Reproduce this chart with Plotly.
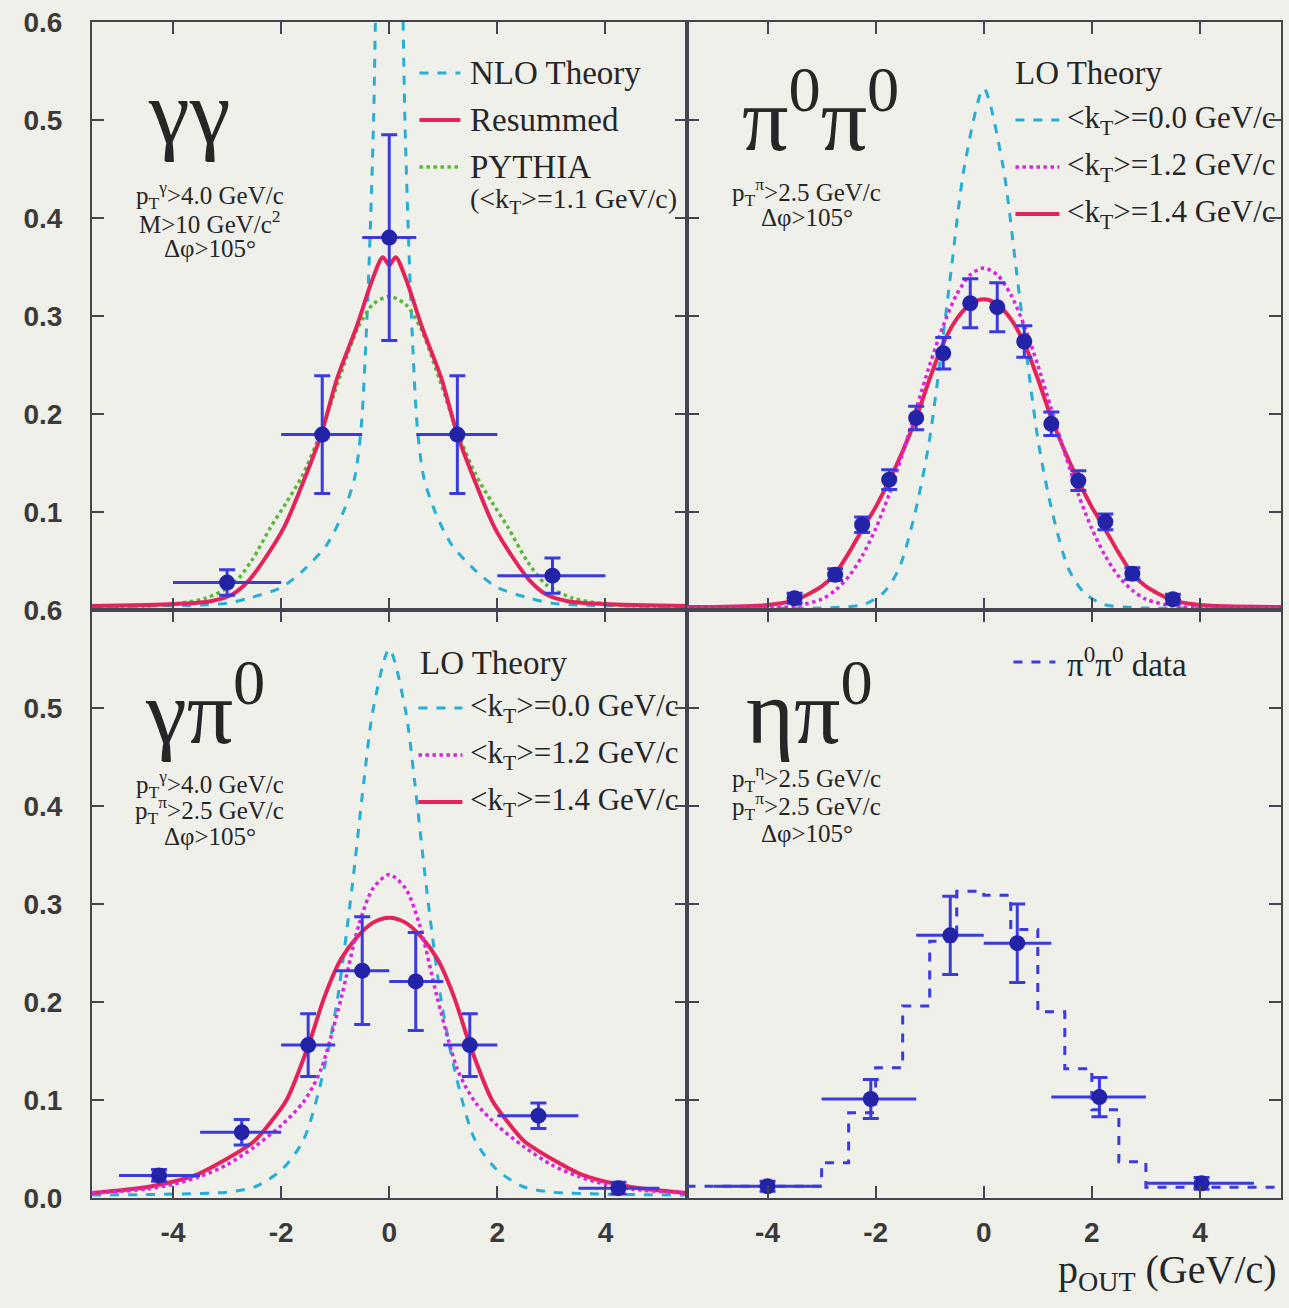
import plotly.graph_objects as go
from plotly.subplots import make_subplots

# ---------------- data ----------------
# gamma-gamma (top left)
gg_x = [-3.0, -1.24, 0.0, 1.26, 3.02]
gg_y = [0.028, 0.179, 0.38, 0.179, 0.035]
gg_yerr = [0.013, 0.06, 0.105, 0.06, 0.018]
gg_xlo = [-4.0, -2.0, -0.5, 0.5, 2.0]
gg_xhi = [-2.0, -0.5, 0.5, 2.0, 4.0]

nlo_x = [-5.5, -4.5, -3.5, -3.0, -2.6, -2.0, -1.6, -1.15, -0.85, -0.64, -0.52, -0.42, -0.35, -0.29, -0.25, -0.15, 0.0,
         0.15, 0.25, 0.29, 0.35, 0.42, 0.52, 0.64, 0.85, 1.15, 1.6, 2.0, 2.6, 3.0, 3.5, 4.5, 5.5]
nlo_y = [0.003, 0.004, 0.005, 0.007, 0.012, 0.023, 0.04, 0.067, 0.1, 0.135, 0.186, 0.288, 0.39, 0.5, 0.62, 0.9, 1.1,
         0.9, 0.62, 0.5, 0.39, 0.288, 0.186, 0.135, 0.1, 0.067, 0.04, 0.023, 0.012, 0.007, 0.005, 0.004, 0.003]

res_x = [-5.5, -4.5, -4.0, -3.3, -2.9, -2.6, -2.33, -1.95, -1.56, -1.26, -0.96, -0.61, -0.3, -0.12, 0.0,
         0.12, 0.3, 0.61, 0.96, 1.26, 1.56, 1.95, 2.33, 2.6, 2.9, 3.3, 4.0, 4.5, 5.5]
res_y = [0.004, 0.005, 0.006, 0.009, 0.016, 0.03, 0.05, 0.084, 0.135, 0.179, 0.237, 0.288, 0.339, 0.36, 0.352,
         0.36, 0.339, 0.288, 0.237, 0.179, 0.135, 0.084, 0.05, 0.03, 0.016, 0.009, 0.006, 0.005, 0.004]

pyth_x = [-5.5, -4.5, -4.0, -3.4, -2.9, -2.55, -2.2, -1.9, -1.6, -1.26, -0.92, -0.58, -0.3, 0.0,
          0.3, 0.58, 0.92, 1.26, 1.6, 1.9, 2.2, 2.55, 2.9, 3.4, 4.0, 4.5, 5.5]
pyth_y = [0.003, 0.004, 0.006, 0.012, 0.026, 0.05, 0.084, 0.11, 0.138, 0.182, 0.237, 0.288, 0.312, 0.32,
          0.312, 0.288, 0.237, 0.182, 0.138, 0.11, 0.084, 0.05, 0.026, 0.012, 0.006, 0.004, 0.003]

# pi0-pi0 (top right)
pp_x = [-3.5, -2.75, -2.25, -1.75, -1.25, -0.75, -0.25, 0.25, 0.75, 1.25, 1.75, 2.25, 2.75, 3.5]
pp_y = [0.012, 0.036, 0.087, 0.133, 0.196, 0.262, 0.313, 0.309, 0.274, 0.19, 0.132, 0.09, 0.037, 0.011]
pp_yerr = [0.005, 0.006, 0.008, 0.01, 0.012, 0.016, 0.025, 0.025, 0.016, 0.012, 0.01, 0.008, 0.006, 0.005]
pp_xerr = [0.12] * 14

pk0_x = [-5.5, -4.0, -3.0, -2.6, -2.2, -1.85, -1.57, -1.28, -1.02, -0.84, -0.6, -0.35, 0.0,
         0.35, 0.6, 0.84, 1.02, 1.28, 1.57, 1.85, 2.2, 2.6, 3.0, 4.0, 5.5]
pk0_y = [0.002, 0.002, 0.002, 0.003, 0.006, 0.018, 0.042, 0.097, 0.168, 0.24, 0.348, 0.455, 0.532,
         0.455, 0.348, 0.24, 0.168, 0.097, 0.042, 0.018, 0.006, 0.003, 0.002, 0.002, 0.002]

pk_x = [-5.5, -4.0, -3.5, -3.0, -2.75, -2.5, -2.25, -2.0, -1.75, -1.5, -1.25, -1.0, -0.75, -0.5, -0.25, 0.0,
        0.25, 0.5, 0.75, 1.0, 1.25, 1.5, 1.75, 2.0, 2.25, 2.5, 2.75, 3.0, 3.5, 4.0, 5.5]
pk12_y = [0.002, 0.002, 0.004, 0.011, 0.02, 0.034, 0.055, 0.083, 0.118, 0.16, 0.205, 0.25, 0.29, 0.322, 0.342, 0.349,
          0.342, 0.322, 0.29, 0.25, 0.205, 0.16, 0.118, 0.083, 0.055, 0.034, 0.02, 0.011, 0.004, 0.002, 0.002]
pk14_y = [0.003, 0.005, 0.01, 0.024, 0.037, 0.058, 0.082, 0.105, 0.132, 0.162, 0.196, 0.236, 0.272, 0.297, 0.312, 0.317,
          0.312, 0.297, 0.272, 0.236, 0.196, 0.162, 0.132, 0.105, 0.082, 0.058, 0.037, 0.024, 0.01, 0.005, 0.003]

# gamma-pi0 (bottom left)
gp_x = [-4.26, -2.73, -1.5, -0.5, 0.49, 1.49, 2.76, 4.24]
gp_y = [0.023, 0.067, 0.156, 0.232, 0.221, 0.156, 0.084, 0.01]
gp_yerr = [0.006, 0.013, 0.032, 0.055, 0.05, 0.032, 0.013, 0.006]
gp_xlo = [-5.0, -3.5, -2.0, -1.0, 0.0, 1.0, 2.0, 3.5]
gp_xhi = [-3.5, -2.0, -1.0, 0.0, 1.0, 2.0, 3.5, 5.0]

gk0_x = [-5.5, -4.0, -3.0, -2.46, -1.97, -1.58, -1.2, -0.95, -0.69, -0.47, -0.3, 0.0,
         0.3, 0.47, 0.69, 0.95, 1.2, 1.58, 1.97, 2.46, 3.0, 4.0, 5.5]
gk0_y = [0.003, 0.004, 0.006, 0.012, 0.03, 0.06, 0.133, 0.206, 0.316, 0.425, 0.498, 0.56,
         0.498, 0.425, 0.316, 0.206, 0.133, 0.06, 0.03, 0.012, 0.006, 0.004, 0.003]

gk12_x = [-5.5, -4.5, -4.0, -3.5, -3.0, -2.5, -2.0, -1.6, -1.4, -1.25, -1.1, -0.88, -0.56, -0.3, 0.0,
          0.3, 0.56, 0.88, 1.1, 1.25, 1.4, 1.6, 2.0, 2.5, 3.0, 3.5, 4.0, 4.5, 5.5]
gk12_y = [0.005, 0.009, 0.014, 0.022, 0.034, 0.052, 0.074, 0.097, 0.115, 0.133, 0.16, 0.206, 0.279, 0.316, 0.33,
          0.316, 0.279, 0.206, 0.16, 0.133, 0.115, 0.097, 0.074, 0.052, 0.034, 0.022, 0.014, 0.009, 0.005]

gk14_x = [-5.5, -4.4, -3.6, -3.1, -2.5, -2.2, -1.9, -1.5, -1.2, -0.9, -0.6, -0.3, 0.0,
          0.3, 0.6, 0.9, 1.2, 1.5, 1.9, 2.2, 2.5, 3.1, 3.6, 4.4, 5.5]
gk14_y = [0.005, 0.012, 0.023, 0.037, 0.058, 0.077, 0.1, 0.155, 0.205, 0.243, 0.266, 0.281, 0.286,
          0.281, 0.266, 0.243, 0.205, 0.155, 0.1, 0.077, 0.058, 0.037, 0.023, 0.012, 0.005]

# eta-pi0 (bottom right)
ep_x = [-4.0, -2.09, -0.62, 0.62, 2.14, 4.03]
ep_y = [0.012, 0.101, 0.268, 0.26, 0.103, 0.015]
ep_yerr = [0.005, 0.02, 0.04, 0.04, 0.02, 0.006]
ep_xlo = [-5.0, -3.0, -1.25, 0.0, 1.25, 3.0]
ep_xhi = [-3.0, -1.25, 0.0, 1.25, 3.0, 5.0]

hist_edges = [-5.5, -3.0, -2.5, -2.0, -1.5, -1.0, -0.5, 0.0, 0.5, 1.0, 1.5, 2.0, 2.5, 3.0, 5.5]

x_ticks = [-4, -2, 0, 2, 4]
y_ticks = [0.0, 0.1, 0.2, 0.3, 0.4, 0.5, 0.6]
y_labels = ["0.0", "0.1", "0.2", "0.3", "0.4", "0.5", "0.6"]

# ---------------- style ----------------
CYAN = "#27aed6"
RED = "#e3235a"
GREEN = "#58b837"
MAG = "#d925dc"
BLUE = "#3a3ae0"
MARK = "#2323a8"
BG = "#f0f0eb"
AX = "#45454f"
TXT = "#262626"
SERIF = "Liberation Serif"
TICKFONT = dict(family="Liberation Sans", size=28, color="#3a3a3a", weight="bold")

fig = make_subplots(rows=2, cols=2, horizontal_spacing=0, vertical_spacing=0)


def curve(x, y, color, dash, width, row, col):
    fig.add_trace(go.Scatter(x=x, y=y, mode="lines",
                             line=dict(color=color, dash=dash, width=width, shape="spline", smoothing=0.8),
                             showlegend=False, hoverinfo="skip"), row=row, col=col)


def points(x, y, yerr, row, col, xlo=None, xhi=None, xerr=None):
    if xerr is not None:
        ex = dict(type="data", array=xerr, color=BLUE, thickness=3, width=0)
    else:
        ex = dict(type="data", symmetric=False,
                  array=[h - v for h, v in zip(xhi, x)],
                  arrayminus=[v - l for v, l in zip(x, xlo)],
                  color=BLUE, thickness=3, width=0)
    fig.add_trace(go.Scatter(x=x, y=y, mode="markers",
                             marker=dict(color=MARK, size=16, symbol="circle"),
                             error_y=dict(type="data", array=yerr, color=BLUE, thickness=3, width=8),
                             error_x=ex, showlegend=False), row=row, col=col)


# top left
curve(nlo_x, nlo_y, CYAN, "dash", 3, 1, 1)
curve(pyth_x, pyth_y, GREEN, "dot", 3.5, 1, 1)
curve(res_x, res_y, RED, "solid", 4, 1, 1)
points(gg_x, gg_y, gg_yerr, 1, 1, gg_xlo, gg_xhi)

# top right
curve(pk0_x, pk0_y, CYAN, "dash", 3, 1, 2)
curve(pk_x, pk14_y, RED, "solid", 4, 1, 2)
curve(pk_x, pk12_y, MAG, "dot", 3.5, 1, 2)
points(pp_x, pp_y, pp_yerr, 1, 2, xerr=pp_xerr)

# bottom left
curve(gk0_x, gk0_y, CYAN, "dash", 3, 2, 1)
curve(gk14_x, gk14_y, RED, "solid", 4, 2, 1)
curve(gk12_x, gk12_y, MAG, "dot", 3.5, 2, 1)
points(gp_x, gp_y, gp_yerr, 2, 1, gp_xlo, gp_xhi)

# bottom right: pi0pi0 data as dashed histogram
fig.add_trace(go.Scatter(x=hist_edges, y=pp_y + [pp_y[-1]], mode="lines",
                         line=dict(color=BLUE, dash="dash", width=3, shape="hv"),
                         showlegend=False, hoverinfo="skip"), row=2, col=2)
points(ep_x, ep_y, ep_yerr, 2, 2, ep_xlo, ep_xhi)

# axes
for r in (1, 2):
    for c in (1, 2):
        fig.update_xaxes(range=[-5.5, 5.5], tickvals=x_ticks, ticktext=[str(v) for v in x_ticks],
                         ticks="inside", ticklen=12, tickwidth=2, tickcolor=AX,
                         showline=True, linecolor=AX, linewidth=2, mirror="ticks",
                         showgrid=False, zeroline=False, showticklabels=(r == 2),
                         tickfont=TICKFONT, ticklabelstandoff=8, row=r, col=c)
        fig.update_yaxes(range=[0, 0.6], tickvals=y_ticks,
                         ticktext=([""] + y_labels[1:]) if r == 1 else y_labels,
                         ticks="inside", ticklen=12, tickwidth=2, tickcolor=AX,
                         showline=True, linecolor=AX, linewidth=2, mirror="ticks",
                         showgrid=False, zeroline=False, showticklabels=(c == 1),
                         tickfont=TICKFONT, ticklabelstandoff=22, row=r, col=c)

# ---------------- annotations & legend samples ----------------
L, R, T, B = 92, 1283, 22, 1198


def P(px, py):
    return (px - L) / (R - L), (B - py) / (B - T)


ann = []
shapes = []


def text(px, py, s, size, xanchor="left", align="left"):
    x, y = P(px, py)
    ann.append(dict(x=x, y=y, xref="paper", yref="paper", text=s, showarrow=False,
                    xanchor=xanchor, yanchor="middle", align=align,
                    font=dict(family=SERIF, size=size, color=TXT)))


def sample(px0, px1, py, color, dash, width):
    x0, y0 = P(px0, py)
    x1, _ = P(px1, py)
    shapes.append(dict(type="line", xref="paper", yref="paper", x0=x0, x1=x1, y0=y0, y1=y0,
                       line=dict(color=color, dash=dash, width=width)))


# panel labels
text(189, 112, "γγ", 92, xanchor="center")
text(822, 112, "π<sup>0</sup>π<sup>0</sup>", 92, xanchor="center")
text(205, 705, "γπ<sup>0</sup>", 92, xanchor="center")
text(811, 705, "ηπ<sup>0</sup>", 92, xanchor="center")

# cuts (one annotation per line)
CS = 25
for py, s in [(195, "p<sub>T</sub><sup>γ</sup>>4.0 GeV/c"), (222, "M>10 GeV/c<sup>2</sup>"), (248, "Δφ>105°")]:
    text(210, py, s, CS, xanchor="center")
for py, s in [(192, "p<sub>T</sub><sup>π</sup>>2.5 GeV/c"), (217, "Δφ>105°")]:
    text(808, py, s, CS, xanchor="center")
for py, s in [(784, "p<sub>T</sub><sup>γ</sup>>4.0 GeV/c"), (810, "p<sub>T</sub><sup>π</sup>>2.5 GeV/c"), (836, "Δφ>105°")]:
    text(210, py, s, CS, xanchor="center")
for py, s in [(778, "p<sub>T</sub><sup>η</sup>>2.5 GeV/c"), (806, "p<sub>T</sub><sup>π</sup>>2.5 GeV/c"), (833, "Δφ>105°")]:
    text(808, py, s, CS, xanchor="center")

LS = 33
KS = 31
# top-left legend
sample(420, 461, 73, CYAN, "dash", 3)
text(469, 73, "NLO Theory", LS)
sample(420, 461, 120, RED, "solid", 4)
text(469, 120, "Resummed", LS)
sample(420, 461, 167, GREEN, "dot", 3.5)
text(469, 167, "PYTHIA", LS)
text(469, 200, "(&lt;k<sub>T</sub>&gt;=1.1 GeV/c)", 28)

# top-right legend
text(1015, 73, "LO Theory", LS)
sample(1017, 1061, 120, CYAN, "dash", 3)
text(1067, 120, "&lt;k<sub>T</sub>&gt;=0.0 GeV/c", KS)
sample(1017, 1061, 167, MAG, "dot", 3.5)
text(1067, 167, "&lt;k<sub>T</sub>&gt;=1.2 GeV/c", KS)
sample(1017, 1061, 214, RED, "solid", 4)
text(1067, 214, "&lt;k<sub>T</sub>&gt;=1.4 GeV/c", KS)

# bottom-left legend
text(419, 663, "LO Theory", LS)
sample(419, 463, 708, CYAN, "dash", 3)
text(469, 708, "&lt;k<sub>T</sub>&gt;=0.0 GeV/c", KS)
sample(419, 463, 755, MAG, "dot", 3.5)
text(469, 755, "&lt;k<sub>T</sub>&gt;=1.2 GeV/c", KS)
sample(419, 463, 802, RED, "solid", 4)
text(469, 802, "&lt;k<sub>T</sub>&gt;=1.4 GeV/c", KS)

# bottom-right legend
sample(1015, 1057, 662, BLUE, "dash", 3)
text(1067, 662, "π<sup>0</sup>π<sup>0</sup> data", LS)

# x axis title
text(1281, 1272, "p<sub>OUT</sub> (GeV/c)", 40, xanchor="right")

fig.update_layout(width=1289, height=1308, margin=dict(l=L, r=1289 - R, t=T, b=1308 - B),
                  paper_bgcolor=BG, plot_bgcolor=BG, annotations=ann, shapes=shapes,
                  showlegend=False)

fig.write_html("out.html")
